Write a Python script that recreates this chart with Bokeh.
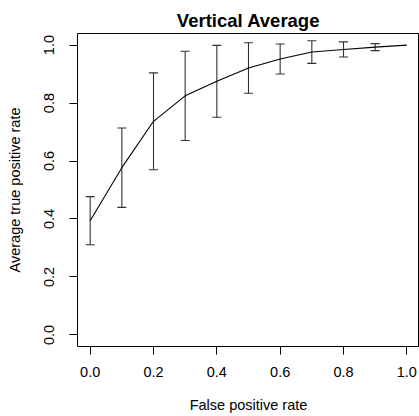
from bokeh.plotting import figure
from bokeh.models import Range1d, FixedTicker, Whisker, TeeHead, ColumnDataSource
from bokeh.embed import file_html
from bokeh.resources import INLINE

# Data
fpr = [0.0, 0.1, 0.2, 0.3, 0.4, 0.5, 0.6, 0.7, 0.8, 0.9, 1.0]
tpr_mean = [0.394, 0.577, 0.737, 0.825, 0.875, 0.921, 0.952, 0.976, 0.985, 0.993, 1.0]
tpr_sd = [0.083, 0.137, 0.167, 0.154, 0.124, 0.087, 0.052, 0.039, 0.026, 0.012, 0.0]
x_ticks = [0.0, 0.2, 0.4, 0.6, 0.8, 1.0]
y_ticks = [0.0, 0.2, 0.4, 0.6, 0.8, 1.0]

FONT = "Liberation Sans"

p = figure(width=419, height=416, output_backend="svg", toolbar_location=None,
           x_range=Range1d(-0.04, 1.04), y_range=Range1d(-0.04, 1.04),
           min_border_left=77, min_border_right=0, min_border_top=33, min_border_bottom=70,
           title="Vertical Average")

p.title.align = "center"
p.title.text_font = FONT
p.title.text_font_size = "18.5px"
p.title.text_font_style = "bold"
p.title.text_color = "black"
p.title.standoff = 6

p.grid.visible = False
p.outline_line_color = "black"
p.outline_line_width = 1
p.background_fill_color = "white"
p.border_fill_color = "white"

for ax in (p.xaxis[0], p.yaxis[0]):
    ax.axis_line_color = None
    ax.major_tick_line_color = "black"
    ax.major_tick_in = 0
    ax.major_tick_out = 8
    ax.minor_tick_line_color = None
    ax.major_label_text_font = FONT
    ax.major_label_text_font_size = "14.5px"
    ax.major_label_text_color = "black"
    ax.axis_label_text_font = FONT
    ax.axis_label_text_font_size = "14.5px"
    ax.axis_label_text_font_style = "normal"
    ax.axis_label_text_color = "black"

p.xaxis.ticker = FixedTicker(ticks=x_ticks)
p.yaxis.ticker = FixedTicker(ticks=y_ticks)
p.xaxis.major_label_overrides = {t: f"{t:.1f}" for t in x_ticks}
p.yaxis.major_label_overrides = {t: f"{t:.1f}" for t in y_ticks}
p.xaxis.axis_label = "False positive rate"
p.yaxis.axis_label = "Average true positive rate"
p.yaxis.major_label_orientation = "vertical"
p.xaxis.major_label_standoff = 12
p.xaxis.axis_label_standoff = 17
p.yaxis.major_label_standoff = 15
p.yaxis.axis_label_standoff = 19

# mean curve
p.line(fpr, tpr_mean, line_color="black", line_width=1.1)

# error bars (skip zero-length ones, as R's arrows() does)
ex = [x for x, s in zip(fpr, tpr_sd) if s > 0]
lo = [m - s for m, s in zip(tpr_mean, tpr_sd) if s > 0]
hi = [m + s for m, s in zip(tpr_mean, tpr_sd) if s > 0]
src = ColumnDataSource(data=dict(x=ex, lo=lo, hi=hi))
w = Whisker(source=src, base="x", lower="lo", upper="hi", dimension="height",
            line_color="#333333", line_width=1.1,
            upper_head=TeeHead(size=9, line_color="#333333", line_width=1.1),
            lower_head=TeeHead(size=9, line_color="#333333", line_width=1.1))
p.add_layout(w)

open("out.html", "w").write(file_html(p, INLINE))
